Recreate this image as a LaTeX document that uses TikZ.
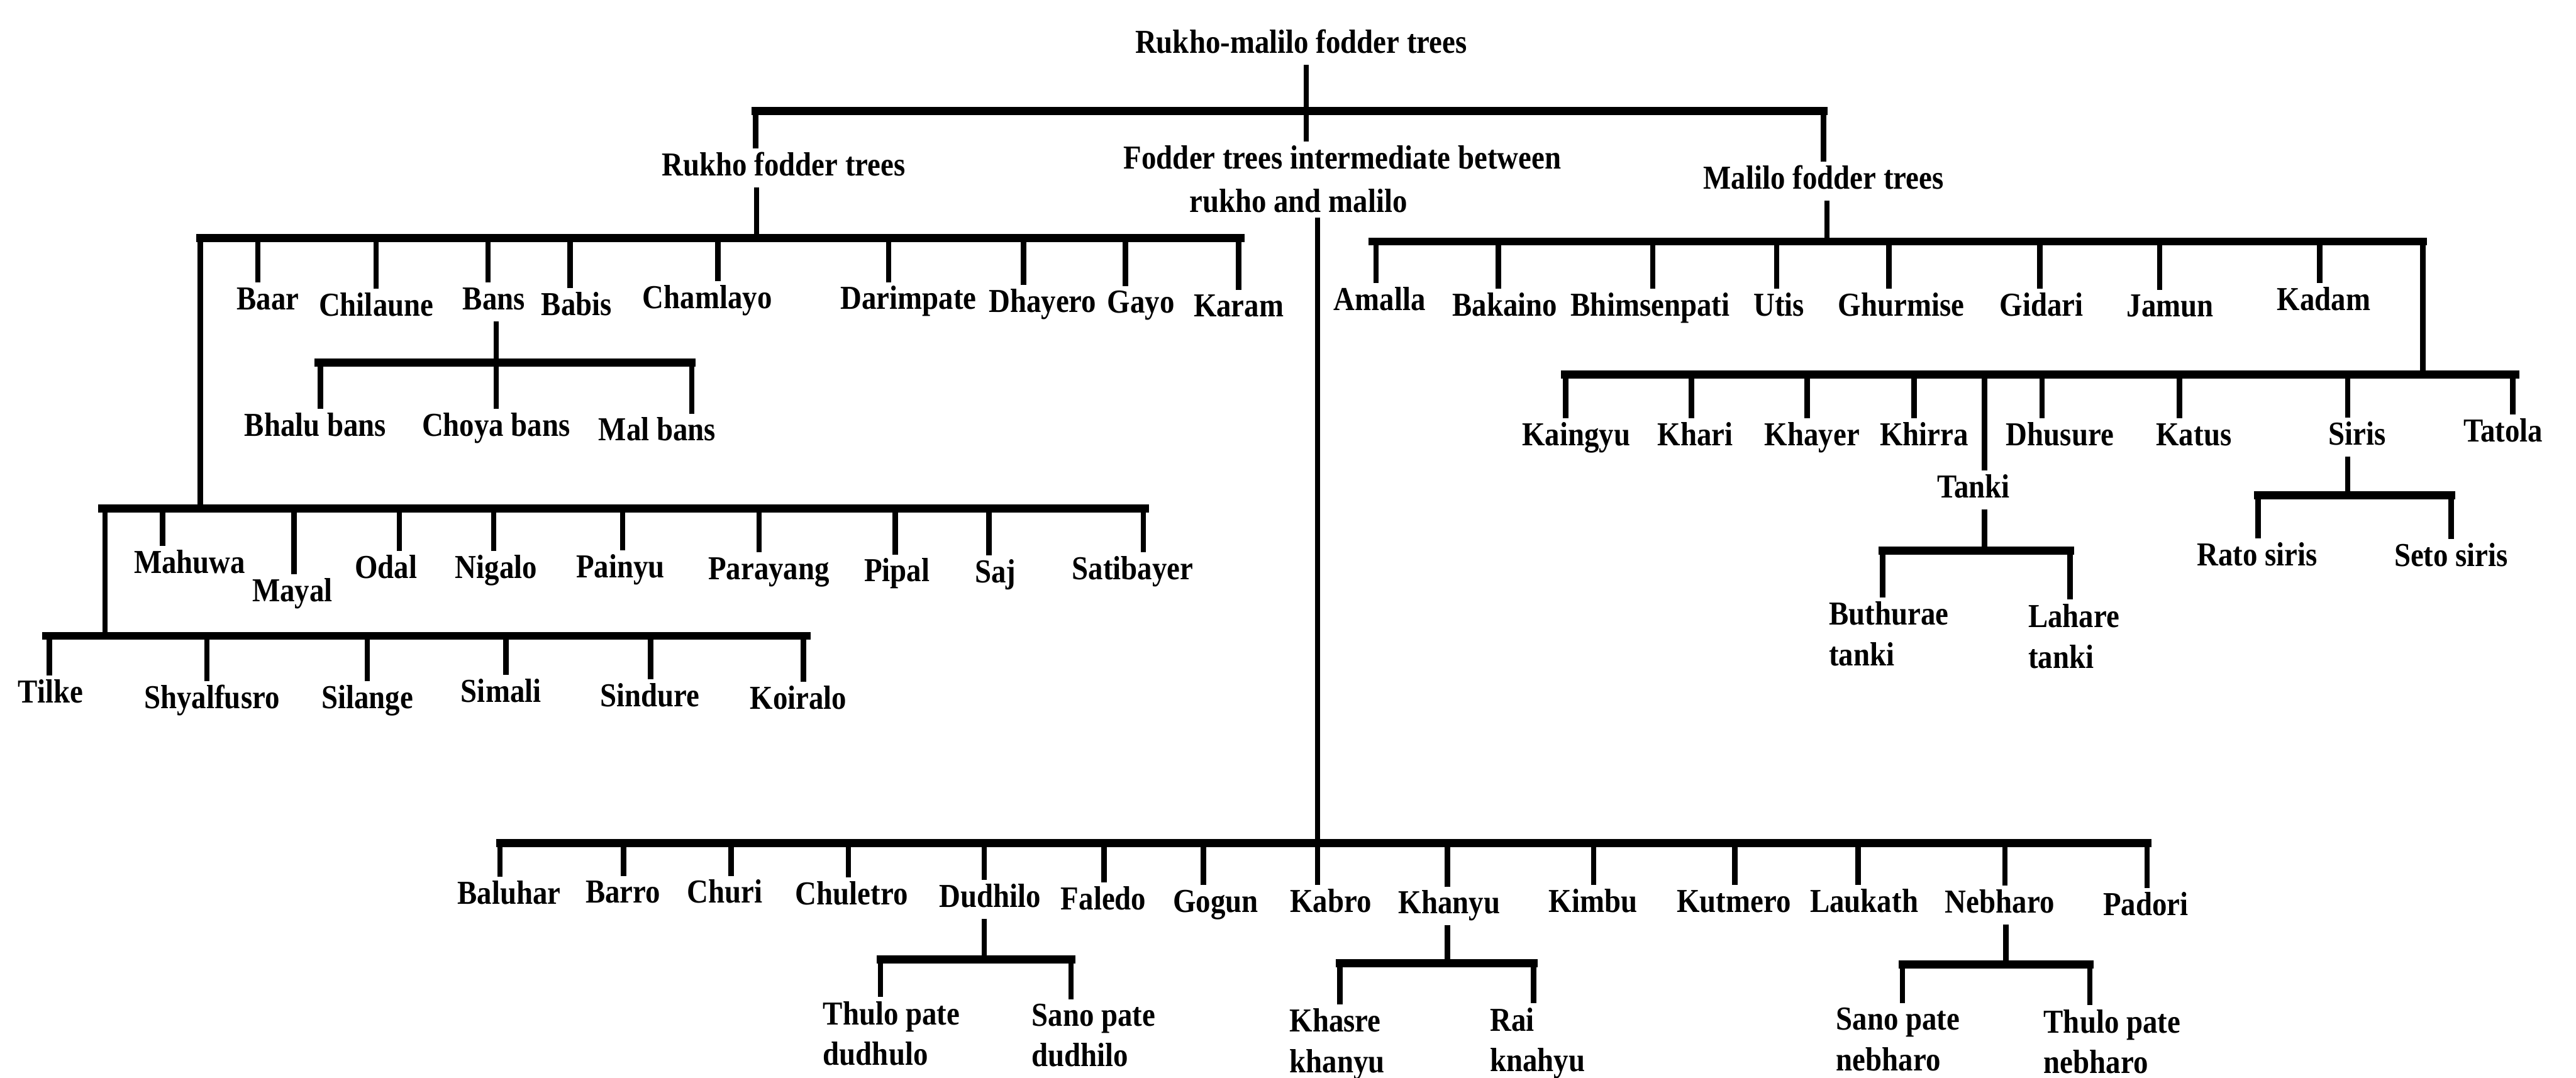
\documentclass[tikz,border=0pt]{standalone}
\usepackage{fontspec}
\setmainfont[FakeStretch=0.88]{Liberation Serif}
\begin{document}
\begin{tikzpicture}[x=0.025cm, y=-0.025cm,
  lbl/.style={font=\fontsize{14.5}{17.5}\selectfont\bfseries, inner sep=2pt, outer sep=0pt,
              text height=9.8pt, text depth=3pt, anchor=north},
  mlbl/.style={font=\fontsize{14.5}{17.5}\selectfont\bfseries, inner sep=2pt, outer sep=0pt,
               align=left, anchor=north west},
  stem/.style={line width=2.3pt},
  bar/.style={line width=3.5pt, line cap=rect}]
\fill[white] (0,0) rectangle (1568,656);
\useasboundingbox (0,0) rectangle (1568,656);

% ---------- top level ----------
\node[lbl] (root) at (792,15.9) {Rukho-malilo fodder trees};
\node[lbl] (rukho) at (477,90.5) {Rukho fodder trees};
\node[lbl] (malilo) at (1110,98.5) {Malilo fodder trees};
\node[mlbl, font=\fontsize{14.5}{18.7}\selectfont\bfseries] (inter) at (681.2,86)
  {Fodder trees intermediate between\\\hspace*{1cm}rukho and malilo};

\coordinate (tbL) at (460,67.5);
\coordinate (tbR) at (1110,67.5);
\coordinate (tbM) at (795,67.5);
\draw[bar] (tbL) -- (tbR);
\draw[stem] (root.south -| tbM) -- (tbM);
\draw[stem] (tbL) -- (rukho.north -| tbL);
\draw[stem] (tbM) -- (inter.north -| tbM);
\draw[stem] (tbR) -- (malilo.north -| tbR);

% ---------- rukho fodder trees ----------
\coordinate (rbL) at (122,145);
\coordinate (rbR) at (755,145);
\coordinate (rbP) at (460.5,145);
\draw[bar] (rbL) -- (rbR);
\draw[stem] (rukho.south -| rbP) -- (rbP);
\foreach \nm/\txt/\lx/\ty/\dx in {
  baar/Baar/163/175/157, chilaune/Chilaune/229/178.8/229, bans/Bans/300.6/175/297,
  babis/Babis/351/178.2/347, chamlayo/Chamlayo/430.6/174.2/437,
  darimpate/Darimpate/553/174.7/541, dhayero/Dhayero/634.6/176.5/623,
  gayo/Gayo/694.5/177/685, karam/Karam/754/179.3/754}{
  \node[lbl] (\nm) at (\lx,\ty-3) {\txt};
  \draw[stem] (rbL -| \dx,0) -- (\nm.north -| \dx,0);
}

% bans
\coordinate (bbL) at (194,220.8);
\coordinate (bbR) at (421,220.8);
\coordinate (bbP) at (302,220.8);
\draw[bar] (bbL) -- (bbR);
\draw[stem] (bans.south -| bbP) -- (bbP);
\foreach \nm/\txt/\lx/\ty/\dx in {
  bhalu/Bhalu bans/192/252/195, choya/Choya bans/302/251.8/302, malbans/Mal bans/400/254.7/421}{
  \node[lbl] (\nm) at (\lx,\ty-3) {\txt};
  \draw[stem] (bbL -| \dx,0) -- (\nm.north -| \dx,0);
}

% second rukho row
\coordinate (mbL) at (62,309.5);
\coordinate (mbR) at (697,309.5);
\coordinate (mbP) at (122,309.5);
\draw[stem] (rbL) -- (mbP);
\draw[bar] (mbL) -- (mbR);
\foreach \nm/\txt/\lx/\ty/\dx in {
  mahuwa/Mahuwa/115.5/335.3/99, mayal/Mayal/178/352.6/179, odal/Odal/235/338.4/243,
  nigalo/Nigalo/302/338.4/300.5, painyu/Painyu/377.7/337.9/379,
  parayang/Parayang/468/339/462, pipal/Pipal/546/340.5/545, saj/Saj/606/341/602,
  satibayer/Satibayer/689.4/339/696}{
  \node[lbl] (\nm) at (\lx,\ty-3) {\txt};
  \draw[stem] (mbL -| \dx,0) -- (\nm.north -| \dx,0);
}

% third rukho row
\coordinate (mbQ) at (64,309.5);
\coordinate (kbL) at (28,387);
\coordinate (kbR) at (491,387);
\coordinate (kbP) at (64,387);
\draw[stem] (mbQ) -- (kbP);
\draw[bar] (kbL) -- (kbR);
\foreach \nm/\txt/\lx/\ty/\dx in {
  tilke/Tilke/30.8/414.3/30, shyalfusro/Shyalfusro/129/417.5/126,
  silange/Silange/223.6/417.5/223.5, simali/Simali/305/413.8/308,
  sindure/Sindure/395.6/416.4/396, koiralo/Koiralo/486/418/489}{
  \node[lbl] (\nm) at (\lx,\ty-3) {\txt};
  \draw[stem] (kbL -| \dx,0) -- (\nm.north -| \dx,0);
}

% ---------- malilo fodder trees ----------
\coordinate (lbL) at (835.5,147);
\coordinate (lbR) at (1474.7,147);
\coordinate (lbP) at (1112,147);
\draw[bar] (lbL) -- (lbR);
\draw[stem] (malilo.south -| lbP) -- (lbP);
\foreach \nm/\txt/\lx/\ty/\dx in {
  amalla/Amalla/839.8/175.3/837.5, bakaino/Bakaino/916/178.7/912,
  bhimsenpati/Bhimsenpati/1004.5/178.7/1006, utis/Utis/1082.8/178.7/1081.5,
  ghurmise/Ghurmise/1157.3/178.7/1149.7, gidari/Gidari/1242.7/178.7/1241.6,
  jamun/Jamun/1321/179.3/1314.5, kadam/Kadam/1414.5/175.3/1412}{
  \node[lbl] (\nm) at (\lx,\ty-3) {\txt};
  \draw[stem] (lbL -| \dx,0) -- (\nm.north -| \dx,0);
}

% second malilo row
\coordinate (cbL) at (952.7,228);
\coordinate (cbR) at (1531,228);
\coordinate (cbP) at (1474.7,228);
\draw[stem] (lbR) -- (cbP);
\draw[bar] (cbL) -- (cbR);
\foreach \nm/\txt/\lx/\ty/\dx in {
  kaingyu/Kaingyu/959.5/257.5/953, khari/Khari/1032/257.5/1029.5,
  khayer/Khayer/1103/257.5/1100, khirra/Khirra/1171.2/257.5/1165,
  tanki/Tanki/1201.3/289.4/1208, dhusure/Dhusure/1253.9/257.5/1243,
  katus/Katus/1335.4/257.5/1326.6, siris/Siris/1434.7/257.3/1429,
  tatola/Tatola/1523.6/255.3/1529.6}{
  \node[lbl] (\nm) at (\lx,\ty-3) {\txt};
  \draw[stem] (cbL -| \dx,0) -- (\nm.north -| \dx,0);
}

% tanki
\coordinate (tkL) at (1146,335.2);
\coordinate (tkR) at (1260,335.2);
\coordinate (tkP) at (1208,335.2);
\draw[bar] (tkL) -- (tkR);
\draw[stem] (tanki.south -| tkP) -- (tkP);
\node[mlbl] (buthurae) at (1110.5,363.5) {Buthurae\\tanki};
\node[mlbl] (lahare) at (1231.8,365) {Lahare\\tanki};
\draw[stem] (tkL) -- (buthurae.north -| tkL);
\draw[stem] (tkR) -- (lahare.north -| tkR);

% siris
\coordinate (sbL) at (1374.5,301.6);
\coordinate (sbR) at (1492,301.6);
\coordinate (sbP) at (1429,301.6);
\draw[bar] (sbL) -- (sbR);
\draw[stem] (siris.south -| sbP) -- (sbP);
\node[lbl] (rato) at (1374,327.7) {Rato siris};
\node[lbl] (seto) at (1492,328.2) {Seto siris};
\draw[stem] (sbL) -- (rato.north -| sbL);
\draw[stem] (sbR) -- (seto.north -| sbR);

% ---------- intermediate fodder trees ----------
\coordinate (btL) at (304.4,513);
\coordinate (btR) at (1307,513);
\coordinate (btP) at (802,513);
\draw[stem] (inter.south -| btP) -- (btP);
\draw[bar] (btL) -- (btR);
\foreach \nm/\txt/\lx/\ty/\dx in {
  baluhar/Baluhar/309.9/536.6/304.4, barro/Barro/379.2/536.1/379.6,
  churi/Churi/441.2/536.1/445, chuletro/Chuletro/518.4/537.1/516.5,
  dudhilo/Dudhilo/602.7/538.6/599, faledo/Faledo/671.7/540.1/672,
  gogun/Gogun/740/541.6/732.5, kabro/Kabro/810/541.6/802,
  khanyu/Khanyu/882.2/542.6/881, kimbu/Kimbu/969.7/541.6/970,
  kutmero/Kutmero/1055.4/541.6/1056, laukath/Laukath/1134.7/541.6/1131,
  nebharo/Nebharo/1217.2/542.1/1220.5, padori/Padori/1306.1/543.6/1307}{
  \node[lbl] (\nm) at (\lx,\ty-3) {\txt};
  \draw[stem] (btL -| \dx,0) -- (\nm.north -| \dx,0);
}

% dudhilo
\coordinate (dbL) at (536,583.9);
\coordinate (dbR) at (652,583.9);
\coordinate (dbP) at (599,583.9);
\draw[bar] (dbL) -- (dbR);
\draw[stem] (dudhilo.south -| dbP) -- (dbP);
\node[mlbl] (thulod) at (498.2,606.7) {Thulo pate\\dudhulo};
\node[mlbl] (sanod) at (625.2,608.2) {Sano pate\\dudhilo};
\draw[stem] (dbL) -- (thulod.north -| dbL);
\draw[stem] (dbR) -- (sanod.north -| dbR);

% khanyu
\coordinate (hbL) at (815.5,586.3);
\coordinate (hbR) at (933.5,586.3);
\coordinate (hbP) at (881,586.3);
\draw[bar] (hbL) -- (hbR);
\draw[stem] (khanyu.south -| hbP) -- (hbP);
\node[mlbl] (khasre) at (782.2,611.2) {Khasre\\khanyu};
\node[mlbl] (rai) at (904.2,610.7) {Rai\\knahyu};
\draw[stem] (hbL) -- (khasre.north -| hbL);
\draw[stem] (hbR) -- (rai.north -| hbR);

% nebharo
\coordinate (nbL) at (1158,587.1);
\coordinate (nbR) at (1272,587.1);
\coordinate (nbP) at (1221,587.1);
\draw[bar] (nbL) -- (nbR);
\draw[stem] (nebharo.south -| nbP) -- (nbP);
\node[mlbl] (sanon) at (1114.9,610.7) {Sano pate\\nebharo};
\node[mlbl] (thulon) at (1241.2,611.7) {Thulo pate\\nebharo};
\draw[stem] (nbL) -- (sanon.north -| nbL);
\draw[stem] (nbR) -- (thulon.north -| nbR);
\end{tikzpicture}
\end{document}
